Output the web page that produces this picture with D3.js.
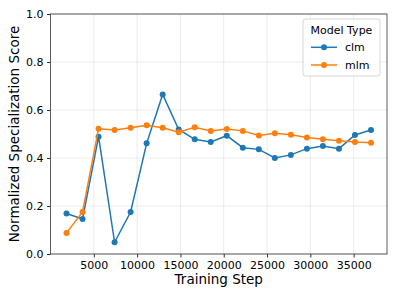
<!DOCTYPE html>
<html>
<head>
<meta charset="utf-8">
<script src="https://cdn.jsdelivr.net/npm/d3@7"></script>
<style>
body{margin:0;background:#fff;}
text{font-family:"DejaVu Sans",sans-serif;fill:#000;}
</style>
</head>
<body>
<script>
var steps = [1850,3700,5550,7400,9250,11100,12950,14800,16650,18500,20350,22200,24050,25900,27750,29600,31450,33300,35150,37000];
var clm = [0.169,0.146,0.489,0.049,0.175,0.461,0.665,0.519,0.478,0.467,0.493,0.443,0.436,0.400,0.413,0.439,0.450,0.439,0.496,0.517];
var mlm = [0.088,0.175,0.522,0.517,0.526,0.536,0.526,0.507,0.528,0.513,0.521,0.513,0.494,0.503,0.497,0.485,0.478,0.472,0.467,0.464];
var seriesNames = ["clm","mlm"];
var colors = ["#1f77b4","#ff7f0e"];
var xTicks = [5000,10000,15000,20000,25000,30000,35000];
var yTicks = [0,0.2,0.4,0.6,0.8,1.0];

var W=396,H=297;
var pL=50.5,pR=387,pT=14,pB=254;

var svg = d3.select("body").append("svg").attr("width",W).attr("height",H);

var x = d3.scaleLinear().domain([0,38850]).range([pL,pR]);
var y = d3.scaleLinear().domain([0,1]).range([pB,pT]);

// grid
svg.selectAll("line.gx").data(xTicks).enter().append("line")
  .attr("x1",function(d){return x(d);}).attr("x2",function(d){return x(d);})
  .attr("y1",pT).attr("y2",pB)
  .attr("stroke","#b0b0b0").attr("stroke-opacity",0.3).attr("stroke-width",0.8);
svg.selectAll("line.gy").data(yTicks).enter().append("line")
  .attr("x1",pL).attr("x2",pR)
  .attr("y1",function(d){return y(d);}).attr("y2",function(d){return y(d);})
  .attr("stroke","#b0b0b0").attr("stroke-opacity",0.3).attr("stroke-width",0.8);

// axes
var xAxis = d3.axisBottom(x).tickValues(xTicks).tickFormat(d3.format("d")).tickSize(3.5).tickPadding(3.5);
var yAxis = d3.axisLeft(y).tickValues(yTicks).tickFormat(d3.format(".1f")).tickSize(3.5).tickPadding(3.5);
var gx = svg.append("g").attr("transform","translate(0,"+pB+")").call(xAxis);
var gy = svg.append("g").attr("transform","translate("+pL+",0)").call(yAxis);
[gx,gy].forEach(function(g){
  g.select(".domain").remove();
  g.selectAll("text").attr("font-size",11).attr("fill","#000").attr("font-family","DejaVu Sans");
  g.selectAll("line").attr("stroke","#000").attr("stroke-width",0.8);
});

svg.append("rect").attr("x",pL).attr("y",pT).attr("width",pR-pL).attr("height",pB-pT)
  .attr("fill","none").attr("stroke","#333").attr("stroke-width",0.8);

// series
var data = [clm,mlm];
var line = d3.line().x(function(d,i){return x(steps[i]);}).y(function(d){return y(d);});
data.forEach(function(s,k){
  svg.append("path").datum(s).attr("d",line).attr("fill","none")
    .attr("stroke",colors[k]).attr("stroke-width",1.5);
  svg.selectAll("circle.s"+k).data(s).enter().append("circle")
    .attr("class","s"+k)
    .attr("cx",function(d,i){return x(steps[i]);})
    .attr("cy",function(d){return y(d);})
    .attr("r",3).attr("fill",colors[k]);
});

// labels
svg.append("text").attr("x",(pL+pR)/2).attr("y",283.5).attr("text-anchor","middle")
  .attr("font-size",13.5).text("Training Step");
svg.append("text").attr("transform","translate(19,"+((pT+pB)/2)+") rotate(-90)")
  .attr("text-anchor","middle").attr("font-size",13.5).text("Normalized Specialization Score");

// legend
var lg = svg.append("g");
lg.append("rect").attr("x",303).attr("y",19).attr("width",77).attr("height",57).attr("rx",2.5)
  .attr("fill","#fff").attr("fill-opacity",0.8).attr("stroke","#ccc").attr("stroke-width",0.8);
lg.append("text").attr("x",341.5).attr("y",34).attr("text-anchor","middle").attr("font-size",11).text("Model Type");
seriesNames.forEach(function(n,k){
  var yy = 47.3+k*17.7;
  lg.append("line").attr("x1",311).attr("x2",337).attr("y1",yy).attr("y2",yy)
    .attr("stroke",colors[k]).attr("stroke-width",1.5);
  lg.append("circle").attr("cx",324).attr("cy",yy).attr("r",3).attr("fill",colors[k]);
  lg.append("text").attr("x",345).attr("y",yy+4).attr("font-size",11).text(n);
});
</script>
</body>
</html>
